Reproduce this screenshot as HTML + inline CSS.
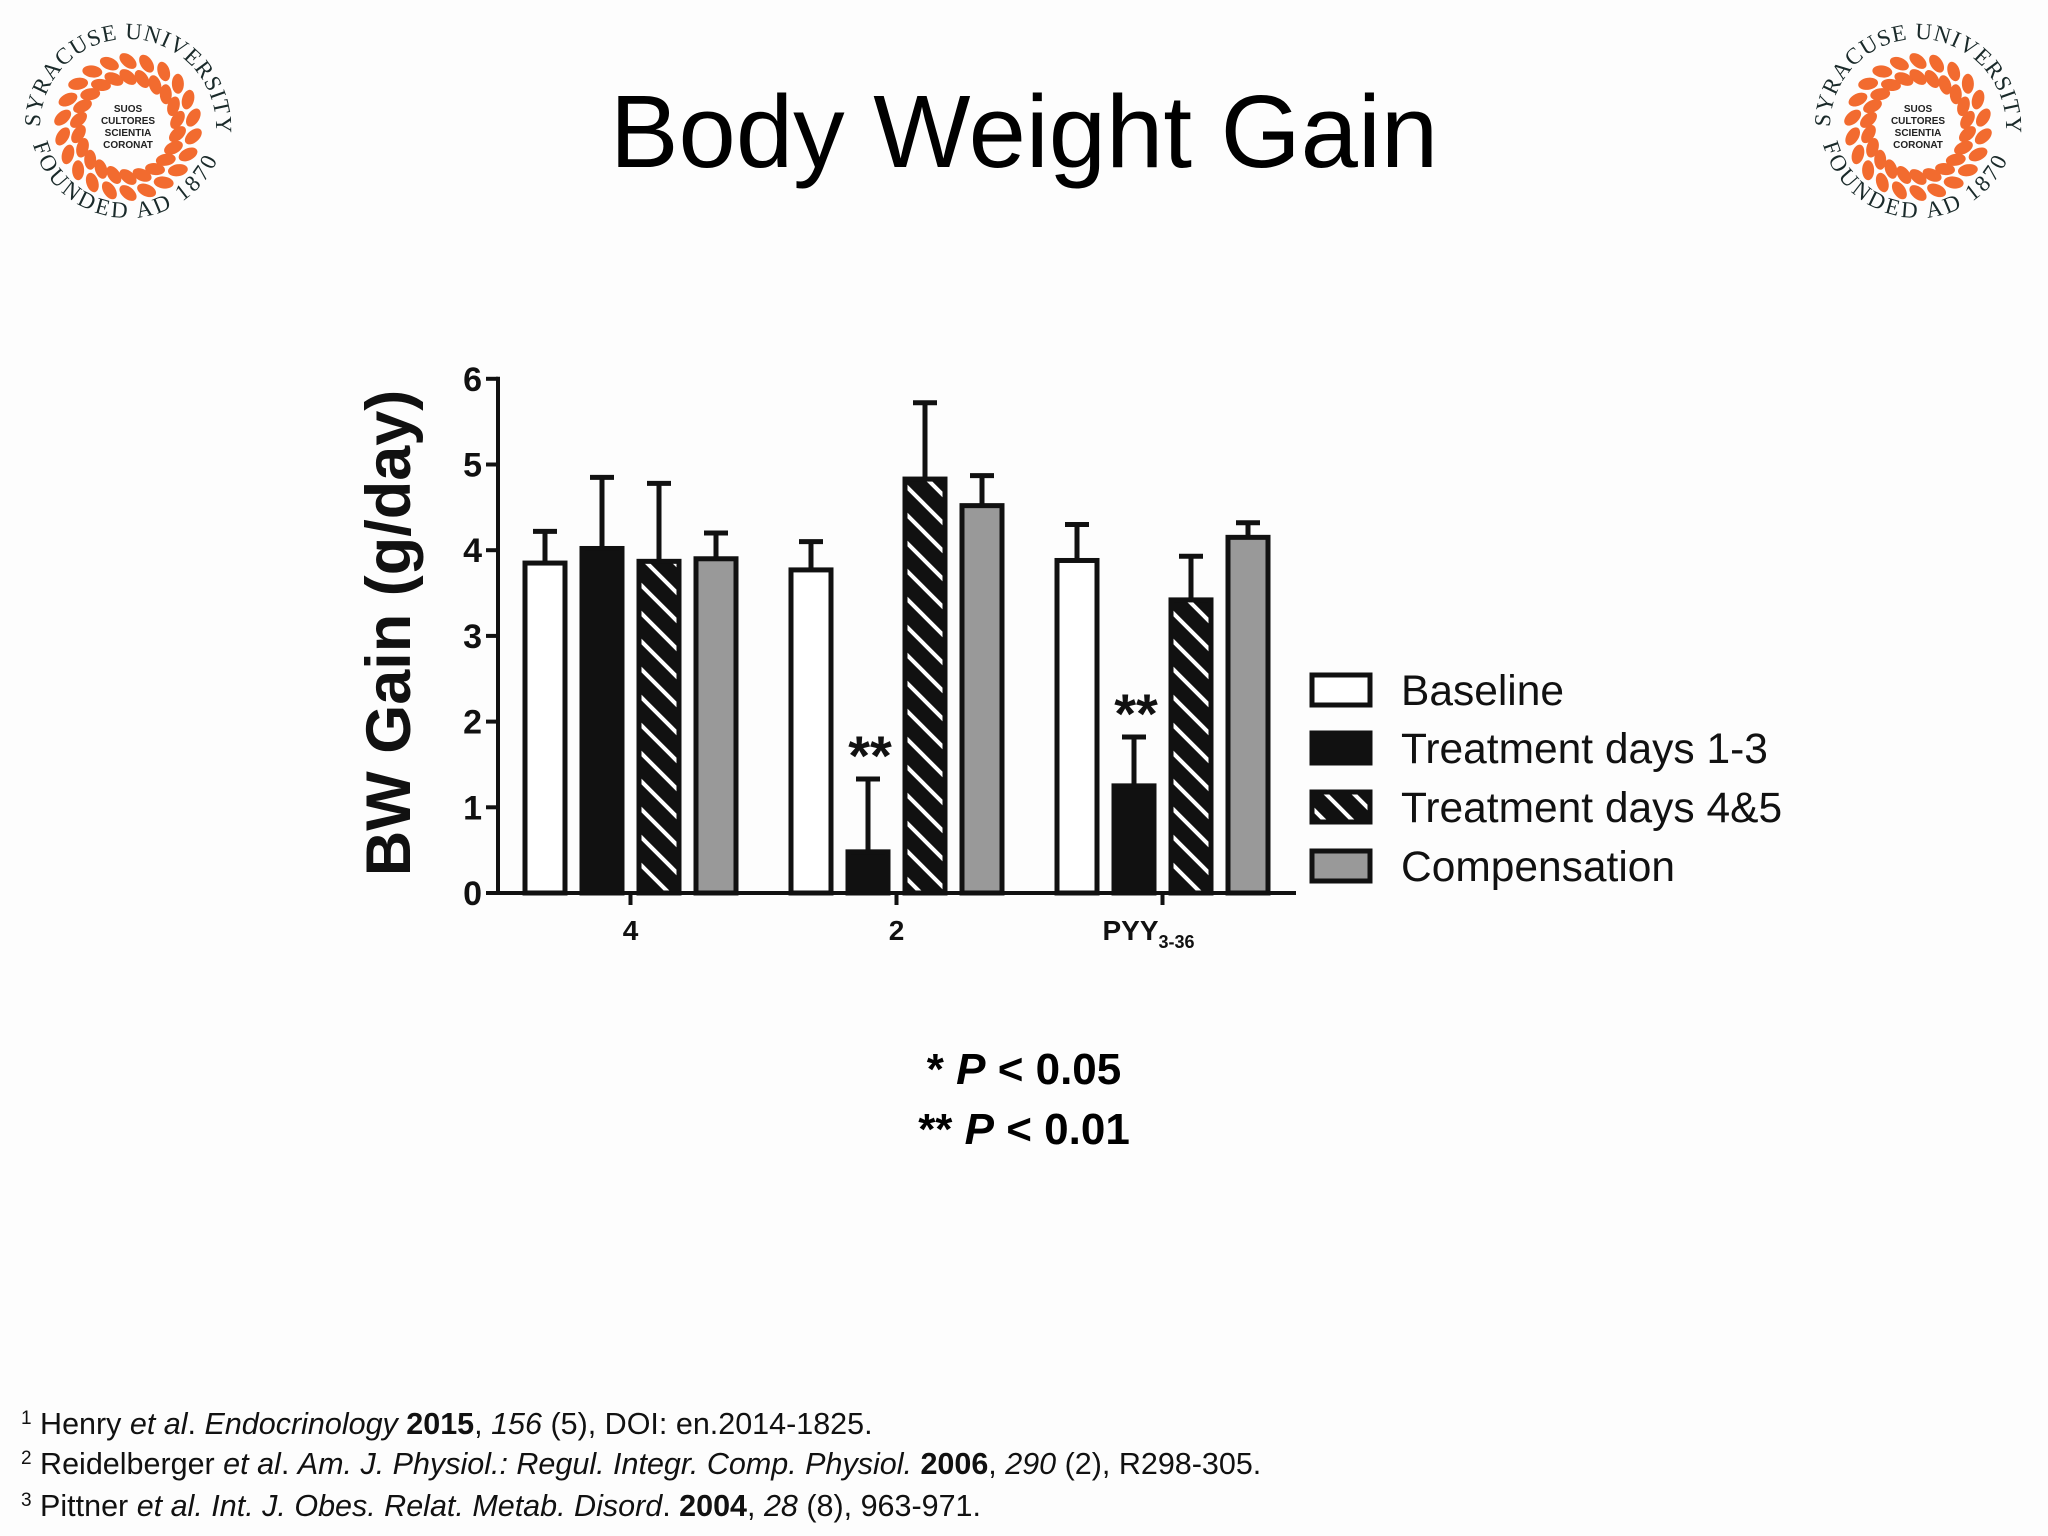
<!DOCTYPE html>
<html><head><meta charset="utf-8"><style>
html,body{margin:0;padding:0;background:#fdfdfd;}
svg{display:block;font-family:"Liberation Sans",sans-serif;}
</style></head><body>
<svg id="s" width="2048" height="1536" viewBox="0 0 2048 1536">
<defs>
<pattern id="hatch" patternUnits="userSpaceOnUse" width="28" height="28">
<rect width="28" height="28" fill="#111"/>
<path d="M-5,-5 L33,33 M-5,23 L5,33 M23,-5 L33,5" stroke="#fff" stroke-width="4"/>
</pattern>
<path id="arcTop" d="M40,127 A88,88 0 0 1 216,127"/>
<path id="arcBot" d="M30,120 A98,98 0 0 0 226,120"/>
</defs>
<text x="1024" y="167" text-anchor="middle" font-size="103" fill="#000">Body Weight Gain</text>
<g id="logos"></g>
<g id="chart"></g>
<text x="1024" y="1084" text-anchor="middle" font-size="44" font-weight="bold">* <tspan font-style="italic">P</tspan> &lt; 0.05</text>
<text x="1024" y="1144" text-anchor="middle" font-size="44" font-weight="bold">** <tspan font-style="italic">P</tspan> &lt; 0.01</text>
<g font-size="30.5" fill="#111">
<text x="21" y="1434"><tspan font-size="19" dy="-10">1</tspan><tspan dy="10"> Henry </tspan><tspan font-style="italic">et al</tspan>. <tspan font-style="italic">Endocrinology</tspan> <tspan font-weight="bold">2015</tspan>, <tspan font-style="italic">156</tspan> (5), DOI: en.2014-1825.</text>
<text x="21" y="1474"><tspan font-size="19" dy="-10">2</tspan><tspan dy="10"> Reidelberger </tspan><tspan font-style="italic">et al</tspan>. <tspan font-style="italic">Am. J. Physiol.: Regul. Integr. Comp. Physiol.</tspan> <tspan font-weight="bold">2006</tspan>, <tspan font-style="italic">290</tspan> (2), R298-305.</text>
<text x="21" y="1516"><tspan font-size="19" dy="-10">3</tspan><tspan dy="10"> Pittner </tspan><tspan font-style="italic">et al. Int. J. Obes. Relat. Metab. Disord</tspan>. <tspan font-weight="bold">2004</tspan>, <tspan font-style="italic">28</tspan> (8), 963-971.</text>
</g>
</svg>
<script>
const groups = ["4", "2", "PYY"];
const seriesNames = ["Baseline", "Treatment days 1-3", "Treatment days 4&5", "Compensation"];
const baseline = [3.85, 3.77, 3.88];
const treat13 = [4.02, 0.48, 1.25];
const treat45 = [3.87, 4.83, 3.42];
const compensation = [3.9, 4.52, 4.15];
const errBaseline = [0.37, 0.33, 0.42];
const errTreat13 = [0.83, 0.85, 0.57];
const errTreat45 = [0.91, 0.89, 0.51];
const errCompensation = [0.3, 0.35, 0.17];
const yTicks = [0, 1, 2, 3, 4, 5, 6];
const sigStars = [["", "", ""], ["", "**", "**"], ["", "", ""], ["", "", ""]];

const NS = "http://www.w3.org/2000/svg";
const chart = document.getElementById("chart");
function mk(tag, attrs, parent) {
  const e = document.createElementNS(NS, tag);
  for (const k in attrs) e.setAttribute(k, attrs[k]);
  (parent || chart).appendChild(e);
  return e;
}
const x0 = 498, yZero = 893, unit = 85.7, xEnd = 1296;
const y = v => yZero - v * unit;
const groupStart = i => 525 + i * 266;
const barX = (g, s) => groupStart(g) + s * 57;
const barW = 40;
const fills = ["#fff", "#111", "url(#hatch)", "#999"];
const vals = [baseline, treat13, treat45, compensation];
const errs = [errBaseline, errTreat13, errTreat45, errCompensation];
const keys = ["baseline", "treatment-1-3", "treatment-4-5", "compensation"];

for (let g = 0; g < groups.length; g++) {
  for (let s = 0; s < 4; s++) {
    const v = vals[s][g], e = errs[s][g];
    const cx = barX(g, s) + barW / 2;
    const top = y(v + e);
    const el = mk("line", {x1: cx, x2: cx, y1: y(v), y2: top, stroke: "#111", "stroke-width": 5});
    
    
    const cap = mk("line", {x1: cx - 12, x2: cx + 12, y1: top, y2: top, stroke: "#111", "stroke-width": 5});
    
    
    const r = mk("rect", {x: barX(g, s), y: y(v), width: barW, height: yZero - y(v), fill: fills[s], stroke: "#111", "stroke-width": 5});
    
    
    if (sigStars[s][g]) {
      const t = mk("text", {x: cx + 2, y: top - 4, "text-anchor": "middle", "font-size": 56, "font-weight": "bold", fill: "#111"});
      t.textContent = sigStars[s][g];
      
      
    }
  }
}
const ya = mk("line", {x1: x0, x2: x0, y1: y(6) - 2, y2: yZero + 2, stroke: "#111", "stroke-width": 4});


const xa = mk("line", {x1: x0 - 12, x2: xEnd, y1: yZero, y2: yZero, stroke: "#111", "stroke-width": 4});


yTicks.forEach(t => {
  const l = mk("line", {x1: x0 - 12, x2: x0, y1: y(t), y2: y(t), stroke: "#111", "stroke-width": 4});
  
  
  const tx = mk("text", {x: x0 - 16, y: y(t) + 12, "text-anchor": "end", "font-size": 34, "font-weight": "bold", fill: "#111"});
  tx.textContent = t;
  
  
});
groups.forEach((gname, g) => {
  const cx = (barX(g, 0) + barX(g, 3) + barW) / 2;
  const l = mk("line", {x1: cx, x2: cx, y1: yZero, y2: yZero + 12, stroke: "#111", "stroke-width": 4});
  
  
  const tx = mk("text", {x: cx, y: yZero + 47, "text-anchor": "middle", "font-size": 28, "font-weight": "bold", fill: "#111"});
  tx.textContent = gname;
  if (gname === "PYY") {
    const sub = document.createElementNS(NS, "tspan");
    sub.setAttribute("font-size", 18);
    sub.setAttribute("dy", 8);
    sub.textContent = "3-36";
    tx.appendChild(sub);
    tx.setAttribute("x", cx - 14);
  }
  
  
});
const yl = mk("text", {x: 0, y: 0, transform: "translate(410,633) rotate(-90)", "text-anchor": "middle", "font-size": 63, "font-weight": "bold", fill: "#111"});
yl.textContent = "BW Gain (g/day)";


const legCy = [690, 748, 807, 866];
seriesNames.forEach((n, s) => {
  const r = mk("rect", {x: 1312, y: legCy[s] - 15, width: 58, height: 30, fill: fills[s], stroke: "#111", "stroke-width": 5});
  
  
  const t = mk("text", {x: 1401, y: legCy[s] + 15, "font-size": 42.5, fill: "#111"});
  t.textContent = n;
  
  
});

const logos = document.getElementById("logos");
[[0, 0], [1790, 0]].forEach(([dx, dy], i) => {
  const g = mk("g", {transform: `translate(${dx},${dy})`}, logos);
  
  
  for (let k = 0; k < 22; k++) {
    const a = (k / 22) * 2 * Math.PI;
    for (let r of [50, 66]) {
      const ex = 128 + r * Math.sin(a), ey = 127 - r * Math.cos(a);
      mk("ellipse", {cx: ex, cy: ey, rx: 10, ry: 6, fill: "#f26b2f", transform: `rotate(${a * 180 / Math.PI + 40},${ex},${ey})`}, g);
    }
  }
  const inner = ["SUOS", "CULTORES", "SCIENTIA", "CORONAT"];
  inner.forEach((w, j) => {
    const t = mk("text", {x: 128, y: 112 + j * 12, "text-anchor": "middle", "font-size": 10, "font-weight": "bold", fill: "#222"}, g);
    t.textContent = w;
  });
  const t1 = mk("text", {"font-size": 23, fill: "#1a2a2a", "font-family": "Liberation Serif, serif", "letter-spacing": 1}, g);
  const tp1 = document.createElementNS(NS, "textPath");
  tp1.setAttribute("href", "#arcTop"); tp1.setAttribute("startOffset", "0");
  tp1.textContent = "SYRACUSE UNIVERSITY";
  t1.appendChild(tp1);
  const t2 = mk("text", {"font-size": 23, fill: "#1a2a2a", "font-family": "Liberation Serif, serif", "letter-spacing": 3}, g);
  const tp2 = document.createElementNS(NS, "textPath");
  tp2.setAttribute("href", "#arcBot"); tp2.setAttribute("startOffset", "8%");
  tp2.textContent = "FOUNDED AD 1870";
  t2.appendChild(tp2);
});
</script>
</body></html>
